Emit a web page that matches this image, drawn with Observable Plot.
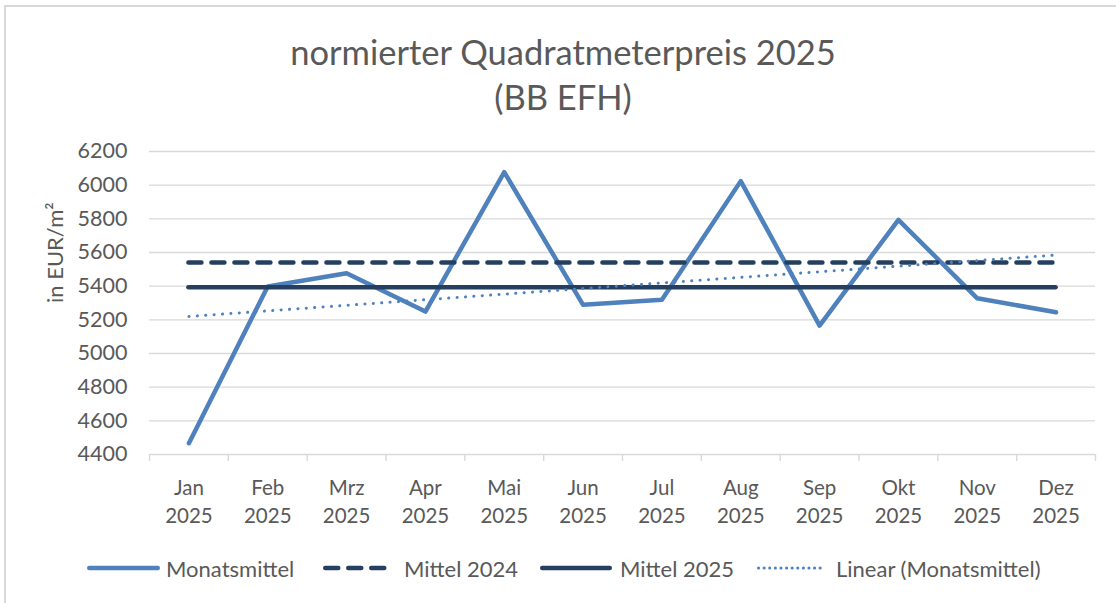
<!DOCTYPE html>
<html>
<head>
<meta charset="utf-8">
<script src="https://cdn.jsdelivr.net/npm/d3@7"></script>
<script src="https://cdn.jsdelivr.net/npm/@observablehq/plot@0.6"></script>
<style>
  html, body { margin: 0; padding: 0; background: #fff; overflow: hidden; }
  #wrap { position: relative; width: 1116px; height: 603px; overflow: hidden; font-family: Lato, "Open Sans", sans-serif; color: #595959; }
  #frame { position: absolute; left: 4px; top: 5px; width: 1200px; height: 700px; border: 2px solid #d9d9d9; box-sizing: border-box; }
  #title { position: absolute; left: 10px; width: 1106px; top: 29px; text-align: center; font-size: 34.5px; line-height: 45px; }
  #chart { position: absolute; left: 0; top: 0; }
  .leg { position: absolute; top: 556px; height: 24px; display: flex; align-items: center; font-size: 22px; white-space: nowrap; }
  .leg svg { display: block; margin-right: 3px; }
</style>
</head>
<body>
<div id="wrap">
  <div id="frame"></div>
  <div id="chart"></div>
  <div id="title">normierter Quadratmeterpreis 2025<br>(BB EFH)</div>
  <div id="legend"></div>
</div>
<script>
const months = ["Jan","Feb","Mrz","Apr","Mai","Jun","Jul","Aug","Sep","Okt","Nov","Dez"];
const year = "2025";
const monatsmittel = [4467, 5398, 5477, 5249, 6077, 5289, 5319, 6024, 5166, 5794, 5328, 5245];
const mittel2024 = 5540;
const mittel2025 = 5394;
const trendValues = [5220, 5585]; // Linear (Monatsmittel) at Jan and Dez
const yTicks = [4400, 4600, 4800, 5000, 5200, 5400, 5600, 5800, 6000, 6200];
const yLabel = "in EUR/m²";
const seriesNames = ["Monatsmittel", "Mittel 2024", "Mittel 2025", "Linear (Monatsmittel)"];

const blue = "#4F81BD";
const navy = "#243F60";

const data = months.map((m, i) => ({i, m, v: monatsmittel[i]}));
const idx = months.map((m, i) => i);
const last = months.length - 1;
const boundaries = d3.range(months.length + 1).map(i => i - 0.5);
const trend = [{i: 0, v: trendValues[0]}, {i: last, v: trendValues[1]}];

const chart = Plot.plot({
  width: 1116,
  height: 603,
  marginLeft: 149,
  marginRight: 21,
  marginTop: 151,
  marginBottom: 149,
  style: {fontFamily: "Lato, 'Open Sans', sans-serif", fontSize: "20px", color: "#595959", background: "transparent"},
  x: {type: "linear", domain: [-0.5, last + 0.5]},
  y: {domain: [yTicks[0], yTicks[yTicks.length - 1]]},
  marks: [
    Plot.gridY(yTicks, {stroke: "#d9d9d9", strokeOpacity: 1, strokeWidth: 1.4}),
    Plot.axisY(yTicks, {tickSize: 0, tickPadding: 22, tickFormat: d => String(d), label: null, fontSize: 21.5}),
    Plot.text([yLabel], {frameAnchor: "left", rotate: -90, dx: -94, fontSize: 22, fill: "#595959"}),
    Plot.axisX(boundaries, {tickSize: 7, tickFormat: () => "", stroke: "#d9d9d9", strokeWidth: 1.4, label: null}),
    Plot.axisX(idx, {tickSize: 0, tickPadding: 20, tickFormat: i => months[i] + "\n" + year, label: null, lineHeight: 1.38, fontSize: 20.5}),
    Plot.line(data, {x: "i", y: "v", stroke: blue, strokeWidth: 4.5, strokeLinejoin: "round", strokeLinecap: "round"}),
    Plot.ruleY([mittel2024], {x1: 0, x2: last, stroke: navy, strokeWidth: 4.5, strokeDasharray: "13,10", strokeLinecap: "round"}),
    Plot.ruleY([mittel2025], {x1: 0, x2: last, stroke: navy, strokeWidth: 4.5, strokeLinecap: "round"}),
    Plot.line(trend, {x: "i", y: "v", stroke: blue, strokeWidth: 3, strokeDasharray: "0.1,8.3", strokeLinecap: "round"})
  ]
});
document.getElementById("chart").appendChild(chart);

// Legend
const legendSpec = [
  {name: seriesNames[0], left: 87, w: 76, sw: 73, stroke: blue, dash: null},
  {name: seriesNames[1], left: 323, w: 78, sw: 65, stroke: navy, dash: "13,10"},
  {name: seriesNames[2], left: 540, w: 77, sw: 72, stroke: navy, dash: null},
  {name: seriesNames[3], left: 757, w: 76, sw: 70, stroke: blue, dash: "0.1,5.5", thin: true}
];
const legend = document.getElementById("legend");
for (const s of legendSpec) {
  const item = document.createElement("div");
  item.className = "leg";
  item.style.left = s.left + "px";
  const strokeW = s.thin ? 3 : 4.5;
  item.innerHTML = `<svg width="${s.w}" height="24"><line x1="${strokeW/2}" x2="${s.sw - strokeW/2}" y1="12" y2="12" stroke="${s.stroke}" stroke-width="${strokeW}" stroke-linecap="round" ${s.dash ? `stroke-dasharray="${s.dash}"` : ""}/></svg><span>${s.name}</span>`;
  legend.appendChild(item);
}
</script>
</body>
</html>
